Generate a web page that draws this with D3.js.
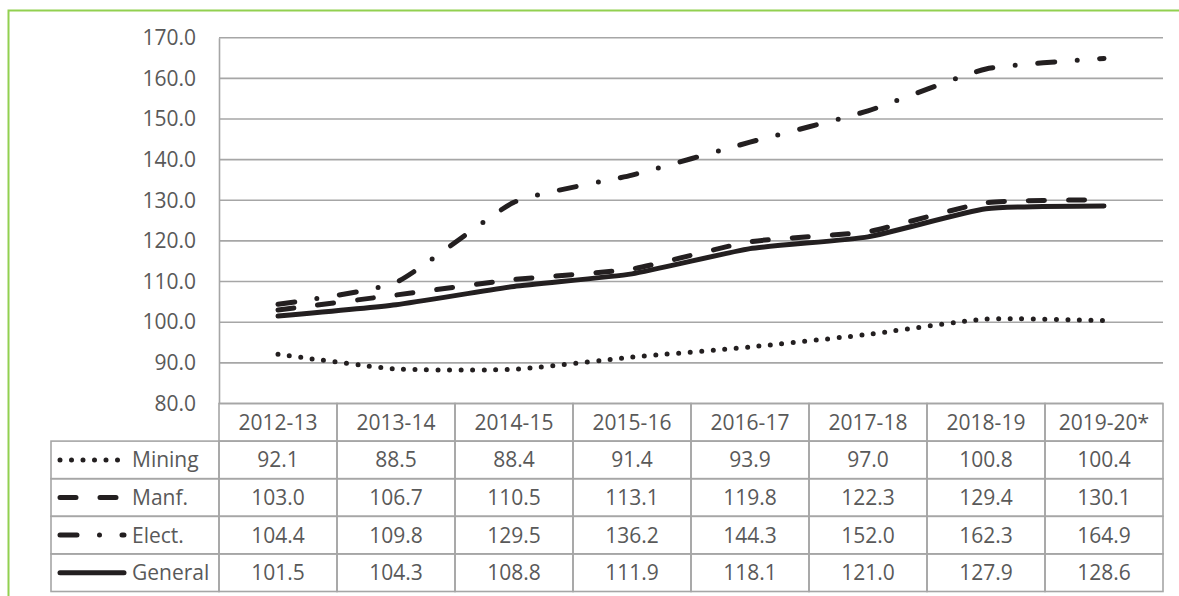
<!DOCTYPE html>
<html>
<head>
<meta charset="utf-8">
<script src="https://cdnjs.cloudflare.com/ajax/libs/d3/7.8.5/d3.min.js"></script>
<style>
  body { margin: 0; background: #fff; }
  svg { display: block; font-family: 'Open Sans', sans-serif; }
  text { fill: #595959; }
</style>
</head>
<body>
<div id="container"></div>
<script>
const years = ['2012-13', '2013-14', '2014-15', '2015-16', '2016-17', '2017-18', '2018-19', '2019-20*'];
const mining = [92.1, 88.5, 88.4, 91.4, 93.9, 97.0, 100.8, 100.4];
const manf = [103.0, 106.7, 110.5, 113.1, 119.8, 122.3, 129.4, 130.1];
const elect = [104.4, 109.8, 129.5, 136.2, 144.3, 152.0, 162.3, 164.9];
const general = [101.5, 104.3, 108.8, 111.9, 118.1, 121.0, 127.9, 128.6];
const yTicks = [80, 90, 100, 110, 120, 130, 140, 150, 160, 170];

const svgWidth = 1179;
const svgHeight = 596;
const gridColor = '#a6a6a6';
const lineColor = '#231f20';

const series = [
  { name: 'Mining', values: mining, dash: '0,11.5' },
  { name: 'Manf.', values: manf, dash: '16,24' },
  { name: 'Elect.', values: elect, dash: '17,22.5,0,22.5' },
  { name: 'General', values: general, dash: null }
];

const svg = d3
  .select('#container')
  .append('svg')
  .attr('width', svgWidth)
  .attr('height', svgHeight);

// outer green frame
svg
  .append('rect')
  .attr('x', 8.5)
  .attr('y', 10.5)
  .attr('width', 1300)
  .attr('height', 700)
  .attr('fill', 'none')
  .attr('stroke', '#92d050')
  .attr('stroke-width', 2);

const x = d3.scaleBand().domain(years).range([219, 1163]);
const y = d3.scaleLinear().domain([80, 170]).range([403.5, 37.7]);

// Grid
svg
  .append('g')
  .selectAll('line')
  .data(yTicks)
  .enter()
  .append('line')
  .attr('x1', 219)
  .attr('x2', 1163)
  .attr('y1', d => y(d))
  .attr('y2', d => y(d))
  .attr('stroke', gridColor)
  .attr('stroke-width', 1.6);

// Y axis
const yAxis = svg
  .append('g')
  .attr('transform', 'translate(219,0)')
  .call(
    d3
      .axisLeft(y)
      .tickValues(yTicks)
      .tickFormat(d3.format('.1f'))
      .tickSize(0)
      .tickSizeOuter(0)
      .tickPadding(23)
  );
yAxis.select('.domain').attr('stroke', gridColor).attr('stroke-width', 1.6);
yAxis
  .selectAll('text')
  .attr('font-size', 21)
  .attr('fill', '#595959')
  .attr('font-family', "'Open Sans', sans-serif");

// Lines
const line = d3
  .line()
  .x((d, i) => x(years[i]) + x.bandwidth() / 2)
  .y(d => y(d))
  .curve(d3.curveCardinal.tension(0.5));

svg
  .append('g')
  .selectAll('path')
  .data(series)
  .enter()
  .append('path')
  .attr('d', d => line(d.values))
  .attr('fill', 'none')
  .attr('stroke', lineColor)
  .attr('stroke-width', 5)
  .attr('stroke-linecap', 'round')
  .attr('stroke-dasharray', d => d.dash);

// Data table
const rowH = 37.6;
const headTop = 403.5;
const tableLeft = 51;
const table = svg.append('g');

// header cells
table
  .selectAll('rect.head')
  .data(years)
  .enter()
  .append('rect')
  .attr('class', 'head')
  .attr('x', d => x(d))
  .attr('y', headTop)
  .attr('width', x.bandwidth())
  .attr('height', rowH)
  .attr('fill', 'none')
  .attr('stroke', gridColor)
  .attr('stroke-width', 1.6);

table
  .selectAll('text.head')
  .data(years)
  .enter()
  .append('text')
  .attr('class', 'head')
  .attr('x', d => x(d) + x.bandwidth() / 2)
  .attr('y', headTop + rowH / 2)
  .attr('dy', '0.36em')
  .attr('text-anchor', 'middle')
  .attr('font-size', 21)
  .text(d => d);

const rows = table
  .selectAll('g.row')
  .data(series)
  .enter()
  .append('g')
  .attr('class', 'row')
  .attr('transform', (d, i) => `translate(0,${headTop + rowH * (i + 1)})`);

rows
  .append('rect')
  .attr('x', tableLeft)
  .attr('y', 0)
  .attr('width', 219 - tableLeft)
  .attr('height', rowH)
  .attr('fill', 'none')
  .attr('stroke', gridColor)
  .attr('stroke-width', 1.6);

rows
  .selectAll('rect.cell')
  .data(d => d.values)
  .enter()
  .append('rect')
  .attr('class', 'cell')
  .attr('x', (d, i) => x(years[i]))
  .attr('y', 0)
  .attr('width', x.bandwidth())
  .attr('height', rowH)
  .attr('fill', 'none')
  .attr('stroke', gridColor)
  .attr('stroke-width', 1.6);

rows
  .selectAll('text.cell')
  .data(d => d.values)
  .enter()
  .append('text')
  .attr('class', 'cell')
  .attr('x', (d, i) => x(years[i]) + x.bandwidth() / 2)
  .attr('y', rowH / 2)
  .attr('dy', '0.36em')
  .attr('text-anchor', 'middle')
  .attr('font-size', 21)
  .text(d => d3.format('.1f')(d));

// legend keys
rows
  .append('line')
  .attr('x1', 60)
  .attr('x2', 124)
  .attr('y1', rowH / 2)
  .attr('y2', rowH / 2)
  .attr('stroke', lineColor)
  .attr('stroke-width', 5)
  .attr('stroke-linecap', 'round')
  .attr('stroke-dasharray', d => d.dash);

rows
  .append('text')
  .attr('x', 132)
  .attr('y', rowH / 2)
  .attr('dy', '0.36em')
  .attr('font-size', 21)
  .text(d => d.name);
</script>
</body>
</html>
